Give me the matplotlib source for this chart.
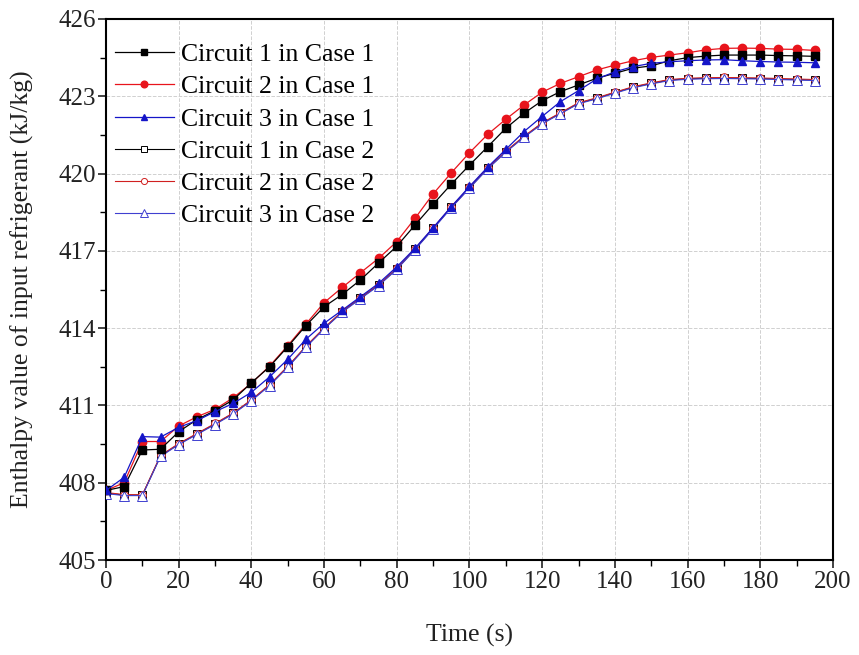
import numpy as np
import matplotlib
matplotlib.use("Agg")
import matplotlib.pyplot as plt
from matplotlib.ticker import MultipleLocator

plt.rcParams['font.family'] = ['Liberation Serif', 'DejaVu Serif']

# time axis (s)
time = list(range(0, 200, 5))

# Case 1
c1_case1 = [407.70, 407.85, 409.27, 409.30, 409.98, 410.45, 410.80, 411.22, 411.88, 412.50,
            413.28, 414.10, 414.83, 415.31, 415.87, 416.53, 417.18, 418.00, 418.81, 419.59,
            420.33, 421.04, 421.76, 422.34, 422.83, 423.18, 423.44, 423.70, 423.89, 424.09,
            424.18, 424.38, 424.50, 424.56, 424.60, 424.60, 424.60, 424.58, 424.57, 424.55]
c2_case1 = [407.70, 408.00, 409.60, 409.60, 410.20, 410.56, 410.85, 411.30, 411.86, 412.53,
            413.32, 414.16, 414.99, 415.58, 416.15, 416.71, 417.36, 418.26, 419.21, 420.03,
            420.81, 421.52, 422.11, 422.66, 423.16, 423.50, 423.76, 424.02, 424.21, 424.38,
            424.51, 424.60, 424.69, 424.80, 424.86, 424.87, 424.86, 424.83, 424.82, 424.78]
c3_case1 = [407.70, 408.21, 409.79, 409.77, 410.15, 410.41, 410.76, 411.08, 411.51, 412.11,
            412.79, 413.57, 414.19, 414.70, 415.22, 415.74, 416.38, 417.10, 417.90, 418.72,
            419.50, 420.25, 420.94, 421.63, 422.22, 422.79, 423.22, 423.67, 423.95, 424.15,
            424.28, 424.34, 424.38, 424.41, 424.42, 424.38, 424.35, 424.33, 424.32, 424.30]

# Case 2 (the three circuits almost coincide)
c1_case2 = [407.60, 407.52, 407.52, 409.04, 409.50, 409.89, 410.28, 410.69, 411.20, 411.79,
            412.50, 413.28, 413.99, 414.64, 415.16, 415.67, 416.30, 417.06, 417.87, 418.69,
            419.45, 420.20, 420.85, 421.43, 421.95, 422.34, 422.73, 422.92, 423.14, 423.35,
            423.50, 423.63, 423.68, 423.70, 423.71, 423.70, 423.69, 423.67, 423.65, 423.63]
c2_case2 = [407.62, 407.54, 407.53, 409.06, 409.52, 409.91, 410.30, 410.71, 411.22, 411.81,
            412.52, 413.30, 414.01, 414.66, 415.18, 415.69, 416.32, 417.08, 417.89, 418.71,
            419.47, 420.22, 420.87, 421.45, 421.97, 422.36, 422.75, 422.94, 423.16, 423.37,
            423.52, 423.65, 423.70, 423.72, 423.73, 423.72, 423.71, 423.69, 423.67, 423.65]
c3_case2 = [407.58, 407.50, 407.50, 409.02, 409.48, 409.87, 410.26, 410.67, 411.18, 411.77,
            412.48, 413.26, 413.97, 414.62, 415.14, 415.65, 416.28, 417.04, 417.85, 418.67,
            419.43, 420.18, 420.83, 421.41, 421.93, 422.32, 422.71, 422.90, 423.12, 423.33,
            423.48, 423.61, 423.66, 423.68, 423.69, 423.68, 423.67, 423.65, 423.63, 423.61]

fig = plt.figure(figsize=(8.59, 6.55), dpi=100)
ax = fig.add_axes([0.1234, 0.145, 0.8463, 0.826])

ms = 5.5
l1, = ax.plot(time, c1_case1, color='black', lw=0.9, marker='s', ms=ms, zorder=5)
l2, = ax.plot(time, c2_case1, color='#e8141c', lw=0.9, marker='o', ms=ms + 0.5, zorder=4)
l3, = ax.plot(time, c3_case1, color='#1515c8', lw=0.9, marker='^', ms=ms + 0.5, zorder=6)
l4, = ax.plot(time, c1_case2, color='black', lw=0.8, marker='s', ms=ms, mfc='white', mew=0.7, zorder=3)
l5, = ax.plot(time, c2_case2, color='#d02020', lw=0.8, marker='o', ms=ms, mfc='white', mew=0.7, zorder=3)
l6, = ax.plot(time, c3_case2, color='#4040d0', lw=0.8, marker='^', ms=ms + 1, mfc='white', mew=0.7, zorder=3)

ax.set_xlim(0, 200)
ax.set_ylim(405, 426)
ax.xaxis.set_major_locator(MultipleLocator(20))
ax.xaxis.set_minor_locator(MultipleLocator(10))
ax.yaxis.set_major_locator(MultipleLocator(3))
ax.yaxis.set_minor_locator(MultipleLocator(1.5))
ax.tick_params(which='major', direction='out', length=6, width=1.2, labelsize=18, colors='#222222')
ax.tick_params(axis='x', which='major', pad=2)
ax.tick_params(axis='y', which='major', pad=1.5)
ax.tick_params(which='minor', direction='out', length=4, width=1.0)
ax.grid(True, which='major', linestyle='--', linewidth=0.7, color='#d0d0d0')
ax.set_axisbelow(True)
for s in ax.spines.values():
    s.set_linewidth(1.5)

ax.set_xlabel('Time (s)', fontsize=18.5, color='#222222', labelpad=22)
ax.set_ylabel('Enthalpy value of input refrigerant (kJ/kg)', fontsize=18.5, color='#222222', labelpad=17)

ax.legend([l1, l2, l3, l4, l5, l6],
          ['Circuit 1 in Case 1', 'Circuit 2 in Case 1', 'Circuit 3 in Case 1',
           'Circuit 1 in Case 2', 'Circuit 2 in Case 2', 'Circuit 3 in Case 2'],
          loc='upper left', bbox_to_anchor=(-0.02, 0.998), frameon=False, fontsize=18.5,
          handlelength=2.3, handletextpad=0.3, labelspacing=0.36, markerscale=0.8)

plt.savefig('out.png', dpi=100)
